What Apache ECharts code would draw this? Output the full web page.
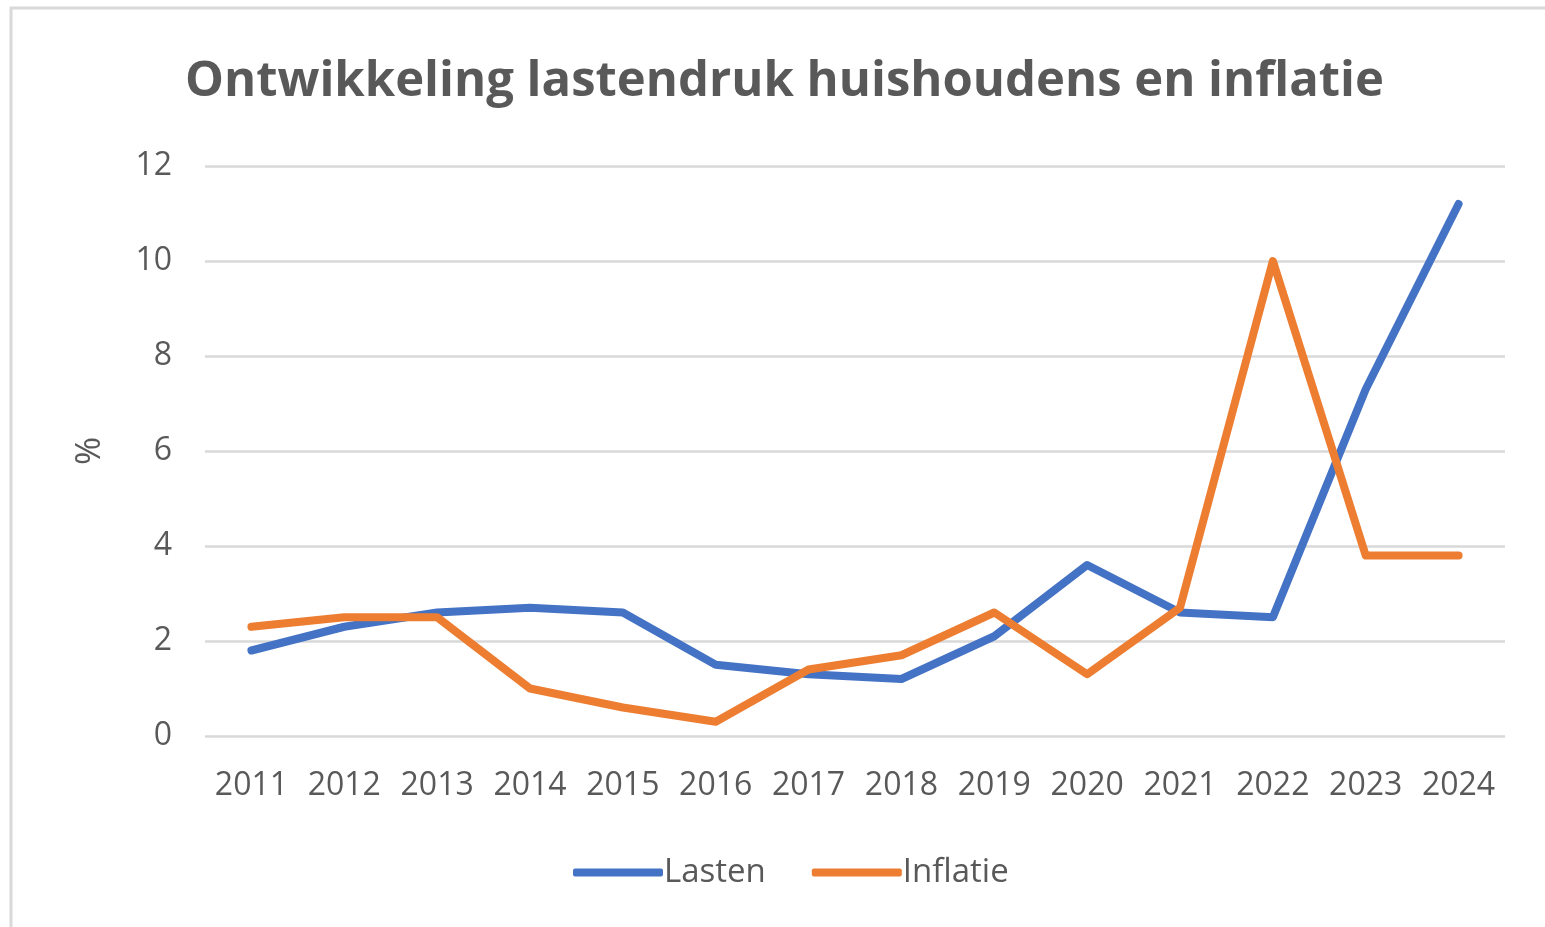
<!DOCTYPE html>
<html>
<head>
<meta charset="utf-8">
<title>Ontwikkeling lastendruk huishoudens en inflatie</title>
<script src="https://cdn.jsdelivr.net/npm/echarts@6/dist/echarts.min.js"></script>
<style>
  html, body { margin: 0; padding: 0; background: #fff; }
  #chart { width: 1545px; height: 927px; }
</style>
</head>
<body>
<div id="chart"></div>
<script>
// jaren op de x-as
var jaren = ["2011", "2012", "2013", "2014", "2015", "2016", "2017", "2018", "2019", "2020", "2021", "2022", "2023", "2024"];
// lastendruk huishoudens (%)
var lasten = [1.8, 2.3, 2.6, 2.7, 2.6, 1.5, 1.3, 1.2, 2.1, 3.6, 2.6, 2.5, 7.3, 11.2];
// inflatie (%)
var inflatie = [2.3, 2.5, 2.5, 1.0, 0.6, 0.3, 1.4, 1.7, 2.6, 1.3, 2.7, 10.0, 3.8, 3.8];
var yTicks = { min: 0, max: 12, interval: 2 };

var textColor = "#595959";
var font = "'Open Sans', 'Noto Sans', sans-serif";

var chart = echarts.init(document.getElementById("chart"));

var option = {
  animation: false,
  textStyle: { fontFamily: font },
  title: {
    text: "Ontwikkeling lastendruk huishoudens en inflatie",
    left: 180,
    top: 53,
    textStyle: {
      color: textColor,
      fontSize: 49,
      fontWeight: "bold",
      fontFamily: font,
    },
  },
  graphic: [
    {
      // lichte kader rond de grafiek
      type: "rect",
      shape: { x: 11, y: 8, width: 1560, height: 940 },
      style: { fill: "none", stroke: "#d9d9d9", lineWidth: 3 },
      silent: true,
    },
  ],
  legend: {
    bottom: 33,
    left: 568,
    itemWidth: 90,
    itemHeight: 8,
    itemGap: 46,
    icon: "roundRect",
    textStyle: { color: textColor, fontSize: 33, fontFamily: font, padding: [0, 0, 0, -4] },
    data: ["Lasten", "Inflatie"],
  },
  grid: {
    left: 205,
    right: 40,
    top: 166,
    bottom: 191,
    containLabel: false,
  },
  xAxis: {
    type: "category",
    data: jaren,
    boundaryGap: true,
    axisLine: { show: false },
    axisTick: { show: false },
    axisLabel: {
      color: textColor,
      fontSize: 32,
      margin: 34,
      interval: 0,
    },
  },
  yAxis: {
    type: "value",
    min: yTicks.min,
    max: yTicks.max,
    interval: yTicks.interval,
    name: "%",
    nameLocation: "middle",
    nameGap: 98,
    nameRotate: 90,
    nameTextStyle: { color: textColor, fontSize: 34, fontFamily: font },
    axisLine: { show: false },
    axisTick: { show: false },
    axisLabel: { color: textColor, fontSize: 32, margin: 33 },
    splitLine: { lineStyle: { color: "#d9d9d9", width: 2.5 } },
  },
  series: [
    {
      name: "Lasten",
      type: "line",
      data: lasten,
      symbol: "none",
      color: "#4472C4",
      lineStyle: { width: 8, cap: "round", join: "round" },
    },
    {
      name: "Inflatie",
      type: "line",
      data: inflatie,
      symbol: "none",
      color: "#ED7D31",
      lineStyle: { width: 8, cap: "round", join: "round" },
    },
  ],
};

chart.setOption(option);
</script>
</body>
</html>
